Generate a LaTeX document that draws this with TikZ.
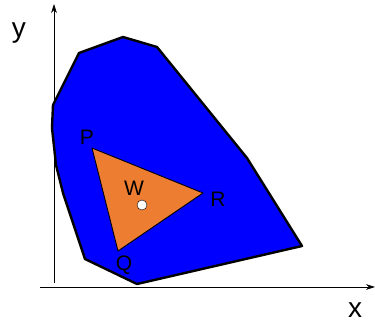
\documentclass[tikz,border=0pt]{standalone}
\usepackage{fontspec}
\setmainfont{Liberation Sans}
\usetikzlibrary{positioning,arrows.meta}
\definecolor{GamutBlue}{RGB}{0,0,255}
\definecolor{TriOrange}{RGB}{237,125,49}
\tikzset{
  axis/.style={-{Stealth[length=3.2mm,width=2mm]},semithick,draw=black},
  gamut/.style={draw=black,line width=2.4pt,fill=GamutBlue,line join=round},
  tri/.style={draw=black,line width=0.9pt,fill=TriOrange,line join=round},
  axislabel/.style={font=\fontsize{28}{30}\selectfont,inner sep=0pt},
  ptlabel/.style={font=\fontsize{21}{23}\selectfont,inner sep=0pt}
}
\begin{document}
\begin{tikzpicture}[x=1pt,y=-1pt]
  \useasboundingbox (0,0) rectangle (375,324);
  % axes
  \coordinate (o) at (54,287);
  \coordinate (xend) at (375,287);
  \coordinate (yend) at (54,4);
  \draw[axis] (40,287) -- (xend);
  \draw[axis] (54,283) -- (yend);
  \node[axislabel] (xlab) at (355,310) {x};
  \node[axislabel] (ylab) at (19,33) {y};
  % gamut outline
  \draw[gamut] (53,105) -- (79,53) -- (123,37) -- (157,47) -- (247,158)
    -- (302,246) -- (137,284) -- (85,259) -- (63,193) -- (56,165)
    -- (52,128) -- cycle;
  % triangle PQR
  \coordinate (P) at (92,148);
  \coordinate (R) at (203,193);
  \coordinate (Q) at (118,251);
  \draw[tri] (P) -- (R) -- (Q) -- cycle;
  \node[circle,draw=black,fill=white,inner sep=0pt,minimum size=10pt] (W) at (142,205) {};
  \node[ptlabel] (Wlab) at (134,188) {W};
  \node[ptlabel] (Plab) at (87,137) {P};
  \node[ptlabel] (Rlab) at (218,199) {R};
  \node[ptlabel] (Qlab) at (124,265) {Q};
\end{tikzpicture}
\end{document}
